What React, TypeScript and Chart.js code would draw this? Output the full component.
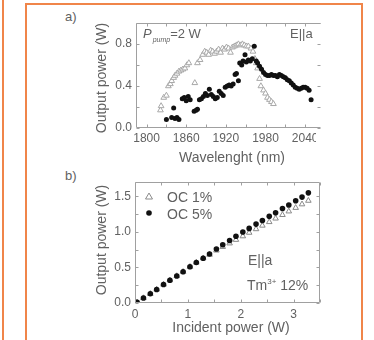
import React, { useEffect, useRef } from "react";
import { Chart, registerables } from "chart.js";
Chart.register(...registerables);

// ---- Panel a) data ----
const triWavelength = [1821,1822,1826,1830,1833,1836,1838,1841,1843,1846,1849,1852,1855,1858,1861,1864,1873,1877,1881,1885,1888,1891,1894,1897,1900,1903,1906,1909,1912,1915,1918,1921,1924,1927,1930,1933,1936,1939,1942,1945,1948,1951,1954,1958,1961,1964,1966,1968,1971,1973,1977,1980,1983,1986,1989,1992];
const triPower = [0.17,0.21,0.29,0.31,0.40,0.42,0.45,0.48,0.50,0.52,0.54,0.55,0.56,0.57,0.60,0.62,0.43,0.62,0.65,0.70,0.73,0.72,0.70,0.74,0.73,0.71,0.73,0.75,0.72,0.76,0.75,0.77,0.76,0.72,0.77,0.78,0.79,0.80,0.79,0.80,0.79,0.78,0.78,0.76,0.73,0.66,0.62,0.57,0.47,0.40,0.36,0.33,0.29,0.27,0.25,0.23];
const dotWavelength = [1830,1838,1841,1843,1846,1849,1854,1857,1860,1863,1866,1872,1875,1877,1880,1883,1886,1889,1892,1895,1898,1901,1904,1907,1910,1913,1916,1919,1922,1925,1928,1931,1934,1936,1939,1941,1944,1946,1949,1951,1954,1957,1960,1963,1966,1968,1971,1974,1977,1980,1983,1986,1989,1992,1995,1998,2001,2004,2007,2010,2013,2016,2019,2022,2025,2028,2031,2034,2037,2040,2043,2046,2049];
const dotPower = [0.08,0.10,0.19,0.09,0.10,0.08,0.28,0.29,0.26,0.30,0.27,0.16,0.17,0.18,0.27,0.28,0.30,0.33,0.31,0.37,0.32,0.30,0.28,0.29,0.35,0.33,0.31,0.39,0.40,0.41,0.40,0.42,0.51,0.52,0.45,0.62,0.60,0.64,0.70,0.63,0.65,0.64,0.66,0.78,0.64,0.62,0.59,0.56,0.53,0.51,0.50,0.50,0.51,0.50,0.50,0.49,0.51,0.50,0.49,0.48,0.46,0.45,0.43,0.41,0.39,0.38,0.37,0.38,0.39,0.39,0.38,0.36,0.27];
const aXTicks = [1800, 1860, 1920, 1980, 2040];
const aXMinor = [1830, 1890, 1950, 2010];
const aYTicks = [0, 0.4, 0.8];
const aYMinor = [0.2, 0.6, 1.0];

// ---- Panel b) data ----
const incident = [0.04,0.16,0.29,0.41,0.54,0.66,0.79,0.91,1.04,1.16,1.29,1.41,1.54,1.66,1.79,1.91,2.04,2.16,2.29,2.41,2.54,2.66,2.79,2.91,3.04,3.16,3.28];
const oc5 = [0.01,0.07,0.13,0.19,0.26,0.32,0.38,0.44,0.51,0.57,0.63,0.69,0.76,0.82,0.88,0.94,1.00,1.05,1.11,1.16,1.22,1.27,1.33,1.38,1.44,1.49,1.55];
const oc1 = [0.01,0.07,0.13,0.19,0.26,0.32,0.38,0.44,0.51,0.57,0.63,0.68,0.74,0.79,0.84,0.89,0.94,0.99,1.04,1.09,1.14,1.19,1.24,1.29,1.34,1.39,1.44];
const bXTicks = [0, 1, 2, 3];
const bXMinor = [0.5, 1.5, 2.5, 3.5];
const bYTicks = [0, 0.5, 1.0, 1.5];
const bYMinor = [0.25, 0.75, 1.25];

const FONT = "'Liberation Sans', Arial, Helvetica, sans-serif";
const TEXT = "#616161";
const FRAME = "#a0a0a0";
const ORANGE = "#f0854a";

const framePlugin = {
  id: "frame",
  afterDraw(chart: any, _args: any, opts: any) {
    const { ctx, chartArea: a, scales } = chart;
    const xs = scales.x, ys = scales.y;
    ctx.save();
    ctx.strokeStyle = FRAME;
    ctx.lineWidth = 1;
    ctx.beginPath();
    const L = Math.round(a.left) + 0.5, R = Math.round(a.right) - 0.5;
    const T = Math.round(a.top) + 0.5, B = Math.round(a.bottom) - 0.5;
    ctx.moveTo(R, T); ctx.lineTo(L, T); ctx.lineTo(L, B); ctx.lineTo(R, B);
    if (opts.drawRight) { ctx.lineTo(R, T); }
    const tl = 3;
    const xt = [...opts.xMajor, ...opts.xMinor];
    xt.forEach((v: number) => {
      const px = Math.round(xs.getPixelForValue(v)) + 0.5;
      if (px < L - 1 || px > R + 1) return;
      ctx.moveTo(px, B); ctx.lineTo(px, B - tl);
      ctx.moveTo(px, T); ctx.lineTo(px, T + tl);
    });
    const yt = [...opts.yMajor, ...opts.yMinor];
    yt.forEach((v: number) => {
      const py = Math.round(ys.getPixelForValue(v)) + 0.5;
      if (py < T - 1 || py > B + 1) return;
      ctx.moveTo(L, py); ctx.lineTo(L + tl, py);
      ctx.moveTo(R, py); ctx.lineTo(R - tl, py);
    });
    ctx.stroke();
    ctx.restore();
  },
};

function makeOptions(cfg: any) {
  return {
    animation: false,
    responsive: false,
    maintainAspectRatio: false,
    events: [],
    layout: { padding: { top: cfg.padTop, right: cfg.padRight, left: 0, bottom: 0 } },
    plugins: {
      legend: { display: false },
      tooltip: { enabled: false },
      frame: cfg.frame,
    },
    scales: {
      x: {
        type: "linear",
        min: cfg.xMin,
        max: cfg.xMax,
        afterBuildTicks: (s: any) => { s.ticks = cfg.xTicks.map((v: number) => ({ value: v })); },
        afterFit: (s: any) => { s.height = 20; },
        grid: { display: false, drawTicks: false },
        border: { display: false },
        ticks: {
          autoSkip: false, maxRotation: 0, minRotation: 0,
          padding: cfg.xPad,
          color: TEXT,
          font: { family: FONT, size: 12 },
          callback: (v: any) => String(v),
        },
      },
      y: {
        type: "linear",
        min: cfg.yMin,
        max: cfg.yMax,
        afterBuildTicks: (s: any) => { s.ticks = cfg.yTicks.map((v: number) => ({ value: v })); },
        afterFit: (s: any) => { s.width = 36; },
        grid: { display: false, drawTicks: false },
        border: { display: false },
        ticks: {
          padding: 4,
          color: TEXT,
          font: { family: FONT, size: 12 },
          callback: (v: any) => Number(v).toFixed(1),
        },
      },
    },
  };
}

function ChartA() {
  const ref = useRef<HTMLCanvasElement>(null);
  useEffect(() => {
    const chart = new Chart(ref.current!, {
      type: "scatter",
      data: {
        datasets: [
          {
            data: dotWavelength.map((x, i) => ({ x, y: dotPower[i] })),
            pointStyle: "circle", pointRadius: 2.5, pointBorderWidth: 0,
            backgroundColor: "#111", borderColor: "#111",
          },
          {
            data: triWavelength.map((x, i) => ({ x, y: triPower[i] })),
            pointStyle: "triangle", pointRadius: 3.3, pointBorderWidth: 1,
            backgroundColor: "#fff", borderColor: "#a8a8a8",
          },
        ],
      },
      options: makeOptions({
        padTop: 8, padRight: 2, xMin: 1784, xMax: 2064, yMin: 0, yMax: 1.0,
        xTicks: aXTicks, yTicks: aYTicks, xPad: 3,
        frame: { drawRight: false, xMajor: aXTicks, xMinor: aXMinor, yMajor: aYTicks, yMinor: aYMinor },
      }) as any,
      plugins: [framePlugin as any],
    });
    return () => chart.destroy();
  }, []);
  return (
    <canvas ref={ref} width={226} height={136}
      style={{ position: "absolute", left: 100, top: 12, width: 226, height: 136 }} />
  );
}

function ChartB() {
  const ref = useRef<HTMLCanvasElement>(null);
  useEffect(() => {
    const chart = new Chart(ref.current!, {
      type: "scatter",
      data: {
        datasets: [
          {
            data: incident.map((x, i) => ({ x, y: oc5[i] })),
            pointStyle: "circle", pointRadius: 2.8, pointBorderWidth: 0,
            backgroundColor: "#111", borderColor: "#111",
          },
          {
            data: incident.map((x, i) => ({ x, y: oc1[i] })),
            pointStyle: "triangle", pointRadius: 3.2, pointBorderWidth: 1,
            backgroundColor: "#fff", borderColor: "#8a8a8a",
          },
        ],
      },
      options: makeOptions({
        padTop: 8, padRight: 2, xMin: 0, xMax: 3.5, yMin: 0, yMax: 1.7,
        xTicks: bXTicks, yTicks: bYTicks, xPad: 4,
        frame: { drawRight: true, xMajor: bXTicks, xMinor: bXMinor, yMajor: bYTicks, yMinor: bYMinor },
      }) as any,
      plugins: [framePlugin as any],
    });
    return () => chart.destroy();
  }, []);
  return (
    <canvas ref={ref} width={226} height={152}
      style={{ position: "absolute", left: 99, top: 171, width: 226, height: 152 }} />
  );
}

const txt = (extra: any) => ({
  position: "absolute" as const,
  fontFamily: FONT,
  color: TEXT,
  lineHeight: 1,
  whiteSpace: "nowrap" as const,
  ...extra,
});

export default function App() {
  return (
    <div style={{ position: "absolute", left: 0, top: 0, width: 374, height: 340, overflow: "hidden", background: "#fff" }}>
      {/* orange decoration */}
      <div style={{ position: "absolute", left: 2, top: 0, width: 2, height: 340, background: ORANGE }} />
      <div style={{ position: "absolute", left: 25, top: 3, width: 338, height: 400, border: `2px solid ${ORANGE}`, boxSizing: "border-box" }} />

      <ChartA />
      <ChartB />

      {/* crop of the last top-axis label, as in the source figure */}
      <div style={{ position: "absolute", left: 316, top: 130, width: 12, height: 14, background: "#fff" }} />

      {/* panel labels */}
      <div style={txt({ left: 65, top: 10, fontSize: 13 })}>a)</div>
      <div style={txt({ left: 65, top: 169, fontSize: 13 })}>b)</div>

      {/* axis titles, panel a */}
      <div style={txt({ left: 101, top: 78, fontSize: 14, transform: "translate(-50%, -50%) rotate(-90deg)" })}>Output power (W)</div>
      <div style={txt({ left: 232, top: 150, fontSize: 14, transform: "translateX(-50%)" })}>Wavelenght (nm)</div>

      {/* axis titles, panel b */}
      <div style={txt({ left: 101, top: 240, fontSize: 14, transform: "translate(-50%, -50%) rotate(-90deg)" })}>Output power (W)</div>
      <div style={txt({ left: 231, top: 320, fontSize: 14, transform: "translateX(-50%)" })}>Incident power (W)</div>

      {/* annotations panel a */}
      <div style={txt({ left: 143, top: 27, fontSize: 13 })}>
        <i>P</i>
        <i style={{ fontSize: 7, position: "relative", top: 4, marginLeft: 1 }}>pump</i>
        <span>=2 W</span>
      </div>
      <div style={txt({ left: 290, top: 27, fontSize: 13 })}>E||a</div>

      {/* legend panel b */}
      <div style={txt({ left: 167, top: 190, fontSize: 14 })}>OC 1%</div>
      <div style={txt({ left: 167, top: 207, fontSize: 14 })}>OC 5%</div>
      <svg style={{ position: "absolute", left: 143, top: 191, width: 12, height: 26 }} width={12} height={26}>
        <polygon points="6,2 9.5,8 2.5,8" fill="#fff" stroke="#8a8a8a" strokeWidth={1} />
        <circle cx={6} cy={22} r={2.8} fill="#111" />
      </svg>

      {/* annotations panel b */}
      <div style={txt({ left: 248, top: 253, fontSize: 14 })}>E||a</div>
      <div style={txt({ left: 247, top: 278, fontSize: 14 })}>
        Tm<span style={{ fontSize: 8, position: "relative", top: -6 }}>3+</span> 12%
      </div>
    </div>
  );
}
